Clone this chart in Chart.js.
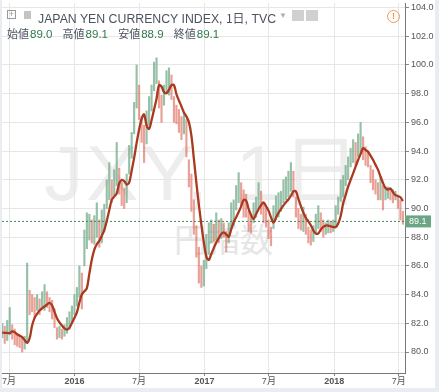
<!DOCTYPE html>
<html>
<head>
<meta charset="utf-8">
<script src="https://cdn.jsdelivr.net/npm/chart.js@4.4.1/dist/chart.umd.min.js"></script>
<style>
  html, body { margin: 0; padding: 0; background: #e9ecf0; width: 439px; height: 392px; overflow: hidden; }
  #wrap { position: absolute; left: 2px; top: 0; width: 433px; height: 388px; background: #fff; overflow: hidden; }
  #chart { position: absolute; left: 0; top: 0; }
  .mark { position: absolute; left: 0; width: 403px; text-align: center; white-space: nowrap; }
  #mark1 { top: 110px; font: 78px "Liberation Sans", Arial, "Noto Sans CJK JP", sans-serif; letter-spacing: 3px; color: #ededed; }
  #mark2 { top: 214px; left: 20px; font: 33px "Noto Sans CJK JP", sans-serif; color: #e6e6e6; }
  .hdr { position: absolute; white-space: nowrap; color: #4c525e; }
  #title { left: 36px; top: 9px; font: 12.3px "Liberation Sans", Arial, sans-serif; }
  #title .tf { font-family: "Noto Sans CJK JP", sans-serif; font-size: 12px; }
  #ohlc { left: 5px; top: 25px; font: 11.5px "Liberation Sans", Arial, "Noto Sans CJK JP", sans-serif; }
  #ohlc .lb { font-family: "Noto Sans CJK JP", sans-serif; font-size: 11px; }
  #ohlc .v { color: #2f7a4c; margin-right: 7px; margin-left: 1px; }
  .ico { position: absolute; box-sizing: border-box; }
  #plus { left: 5px; top: 10px; width: 9px; height: 9px; border: 1px solid #999; font: 9px/7px Arial; color: #999; text-align: center; }
  #flag { left: 22px; top: 11px; width: 7px; height: 8px; background: #c4c4c4; }
  #caret { left: 277px; top: 11px; font: 8px Arial; color: #b0b0b0; }
  #g1 { left: 290px; top: 10px; width: 12px; height: 11px; background: #d0d0d0; }
  #g2 { left: 304px; top: 10px; width: 12px; height: 11px; background: #d0d0d0; }
  #warn { left: 385px; top: 10px; width: 13px; height: 13px; border: 1.5px solid #f19a55; border-radius: 50%; font: bold 9px/10px Arial; color: #f19a55; text-align: center; }
</style>
</head>
<body>
<div id="wrap">
  <div class="mark" id="mark1">JXY, 1日</div>
  <div class="mark" id="mark2">円指数</div>
  <canvas id="chart" width="433" height="388"></canvas>
  <div class="ico" id="plus">+</div>
  <div class="ico" id="flag"></div>
  <div class="hdr" id="title">JAPAN YEN CURRENCY INDEX, <span class="tf">1日</span>, TVC</div>
  <div class="ico" id="caret">▼</div>
  <div class="ico" id="g1"></div>
  <div class="ico" id="g2"></div>
  <div class="ico" id="warn">!</div>
  <div class="hdr" id="ohlc"><span class="lb">始値</span><span class="v">89.0</span> <span class="lb">高値</span><span class="v">89.1</span> <span class="lb">安値</span><span class="v">88.9</span> <span class="lb">終値</span><span class="v">89.1</span></div>
</div>
<script>
// weekly samples, first week starting 2015-06-12
const weekStart = "2015-06-12";
const refDate = "2015-07-01";

const maValues = [
  81.35, 81.34, 81.33, 81.32, 81.43, 81.38, 81.23, 81.14, 81.04, 80.83,
  80.64, 80.96, 81.84, 82.38, 82.66, 82.89, 83.04, 83.18, 83.31, 83.43,
  83.26, 82.80, 82.35, 82.06, 81.84, 81.64, 81.56, 81.68, 82.03, 82.38,
  82.76, 83.45, 84.02, 84.23, 84.45, 85.46, 86.44, 87.14, 87.51, 87.74,
  88.09, 88.49, 89.14, 89.88, 90.60, 90.83, 91.06, 91.76, 91.99, 91.91,
  91.67, 91.81, 92.63, 93.53, 94.57, 95.51, 96.24, 96.56, 95.80, 95.55,
  96.15, 96.89, 97.65, 98.60, 98.50, 98.11, 98.04, 98.27, 98.60, 98.60,
  97.96, 97.53, 97.12, 96.69, 96.42, 96.02, 95.10, 93.47, 91.80, 90.27,
  88.90, 87.65, 86.65, 86.42, 86.83, 87.24, 87.63, 87.93, 88.22, 88.34,
  88.20, 88.02, 88.55, 89.04, 89.39, 89.75, 90.15, 90.60, 90.55, 89.97,
  89.54, 89.26, 89.61, 89.95, 90.23, 90.42, 90.15, 89.85, 89.38, 89.01,
  89.36, 89.70, 89.96, 90.22, 90.44, 90.63, 90.89, 91.20, 91.20, 90.67,
  90.17, 89.71, 89.34, 89.11, 88.83, 88.48, 88.25, 88.27, 88.53, 88.72,
  88.81, 88.81, 88.75, 88.72, 88.70, 88.95, 89.48, 90.36, 90.94, 91.52,
  91.99, 92.45, 92.92, 93.38, 93.79, 94.20, 94.08, 93.96, 93.68, 93.39,
  93.04, 92.69, 92.23, 91.78, 91.43, 91.32, 91.39, 91.15, 90.93, 90.87,
  90.78, 90.52
];

const weekLows = [
  81.0, 80.6, 80.8, 81.2, 80.9, 80.5, 80.4, 80.3, 80.0, 80.2,
  80.7, 82.6, 82.8, 82.4, 82.9, 82.6, 83.0, 82.9, 83.1, 82.8,
  82.3, 81.7, 80.9, 81.0, 80.9, 81.1, 81.3, 81.6, 82.1, 82.6,
  83.2, 83.8, 83.0, 86.0, 87.2, 87.8, 87.6, 87.5, 88.0, 87.3,
  87.6, 88.4, 90.0, 90.6, 90.4, 90.9, 91.6, 91.0, 90.2, 90.0,
  90.4, 92.4, 93.5, 95.2, 97.0, 96.2, 94.6, 93.2, 94.5, 95.8,
  96.8, 98.2, 98.7, 97.0, 96.0, 97.2, 98.0, 97.9, 97.6, 96.0,
  95.9, 95.3, 94.8, 95.2, 93.6, 91.5, 89.8, 88.2, 86.6, 84.8,
  84.5, 84.6, 85.8, 86.8, 87.6, 87.7, 87.8, 87.6, 87.9, 88.0,
  87.0, 87.6, 88.6, 88.8, 89.9, 90.4, 90.2, 89.4, 89.4, 88.4,
  88.3, 89.0, 89.4, 90.0, 89.6, 89.0, 88.7, 87.9, 87.4, 88.6,
  89.2, 89.4, 89.8, 90.4, 90.6, 90.8, 91.2, 90.8, 89.4, 88.6,
  88.5, 88.4, 88.2, 87.6, 87.45, 87.7, 88.3, 88.6, 88.4, 88.0,
  88.2, 88.3, 88.3, 88.4, 88.8, 89.6, 90.5, 90.8, 91.6, 92.0,
  92.9, 93.2, 93.0, 93.6, 93.8, 93.4, 93.0, 92.9, 91.8, 91.3,
  91.0, 90.6, 90.6, 89.9, 90.6, 90.7, 90.6, 90.4, 90.6, 90.0,
  89.2, 88.9
];

const weekHighs = [
  82.0, 81.8, 82.2, 83.1, 81.9, 81.6, 81.3, 81.2, 81.0, 81.1,
  86.2, 84.3, 84.0, 83.8, 84.0, 83.7, 84.2, 84.7, 84.2, 83.8,
  83.6, 83.0, 81.7, 81.8, 81.6, 81.9, 82.4, 82.8, 83.2, 84.0,
  84.5, 86.0, 85.5, 88.5, 89.7, 89.6, 89.2, 89.5, 90.4, 89.2,
  89.9, 90.3, 92.0, 93.2, 92.0, 92.7, 94.6, 92.8, 91.8, 91.4,
  92.4, 94.4, 95.3, 97.4, 100.0, 98.6, 96.4, 95.8, 96.8, 97.8,
  98.6, 100.2, 100.5, 98.9, 97.9, 98.6, 99.6, 99.8, 99.3, 97.8,
  97.2, 96.9, 96.4, 96.7, 96.2, 93.4, 92.4, 90.6, 88.8, 87.3,
  86.0, 86.4, 88.2, 89.0, 89.2, 88.9, 89.7, 89.2, 89.3, 89.0,
  88.4, 89.0, 90.4, 90.6, 91.6, 92.5, 91.8, 91.3, 91.0, 89.8,
  89.5, 90.4, 90.8, 91.8, 91.2, 90.4, 90.0, 89.2, 88.7, 90.2,
  90.9, 91.1, 91.2, 92.0, 92.2, 92.6, 93.2, 92.6, 90.8, 90.0,
  89.6, 90.1, 89.6, 88.7, 88.5, 88.8, 89.6, 90.2, 89.7, 89.2,
  89.0, 89.2, 89.1, 89.2, 90.2, 90.8, 92.0, 92.3, 93.0, 93.6,
  94.2, 94.8, 94.6, 95.2, 96.0, 95.0, 94.3, 94.0, 93.0, 92.7,
  92.0, 91.8, 92.2, 91.6, 91.5, 91.5, 91.4, 91.3, 91.2, 90.8,
  90.6, 89.8
];

const lastPrice = 89.1;
const tickDates = ["2015-07-01", "2016-01-01", "2016-07-01", "2017-01-01", "2017-07-01", "2018-01-01", "2018-07-01"];
const tickLabels = ["7月", "2016", "7月", "2017", "7月", "2018", "7月"];
const yTicks = [80, 82, 84, 86, 88, 90, 92, 94, 96, 98, 100, 102, 104];

const DAY = 86400000;
const dayOf = s => Math.round((Date.parse(s) - Date.parse(refDate)) / DAY);
const firstDay = dayOf(weekStart);
const tickDays = tickDates.map(dayOf);
const xMin = -19.7, xMax = 1113.9;

const maPoints = maValues.map((v, i) => ({ x: firstDay + 7 * i, y: v }));
const barPoints = weekLows.map((lo, i) => ({ x: firstDay + 7 * i, y: [lo, weekHighs[i]] }));
const barColors = weekLows.map((lo, i) => {
  const mid = (lo + weekHighs[i]) / 2;
  const prev = i > 0 ? (weekLows[i - 1] + weekHighs[i - 1]) / 2 : mid;
  return mid >= prev ? "rgba(107,165,131,0.7)" : "rgba(215,84,66,0.55)";
});

const priceTag = {
  id: "priceTag",
  afterDraw(chart) {
    const c = chart.ctx;
    const y = chart.scales.y.getPixelForValue(lastPrice);
    const x = chart.chartArea.right;
    c.save();
    c.fillStyle = "#6ba583";
    c.fillRect(x, y - 6, 26, 12);
    c.fillStyle = "#fff";
    c.font = "9px 'Liberation Sans', Arial, sans-serif";
    c.textBaseline = "middle";
    c.fillText(lastPrice.toFixed(1), x + 4, y + 0.5);
    c.restore();
  }
};

const ctx = document.getElementById("chart").getContext("2d");
new Chart(ctx, {
  type: "bar",
  data: {
    datasets: [
      {
        type: "line",
        data: maPoints,
        borderColor: "#a9391f",
        borderWidth: 2.3,
        pointRadius: 0,
        tension: 0.35,
        order: 0
      },
      {
        type: "line",
        data: [{ x: xMin, y: lastPrice }, { x: xMax, y: lastPrice }],
        borderColor: "#3f8a5c",
        borderWidth: 1,
        borderDash: [2, 2],
        pointRadius: 0,
        order: 1
      },
      {
        type: "bar",
        data: barPoints,
        backgroundColor: barColors,
        barThickness: 1.5,
        order: 2
      }
    ]
  },
  options: {
    responsive: false,
    animation: false,
    layout: { padding: { top: 3 } },
    plugins: { legend: { display: false }, tooltip: { enabled: false } },
    scales: {
      x: {
        type: "linear",
        offset: false,
        min: xMin,
        max: xMax,
        afterBuildTicks: s => { s.ticks = tickDays.map(v => ({ value: v })); },
        afterFit: s => { s.height = 15; s.paddingLeft = 0; s.paddingRight = 0; },
        ticks: {
          autoSkip: false,
          maxRotation: 0,
          padding: 0,
          color: "#555",
          font: c => ({ size: 9, family: "'Liberation Sans', Arial, 'Noto Sans CJK JP', sans-serif", weight: (tickLabels[c.index] || "").length === 4 ? "bold" : "normal" }),
          callback: (v, i) => tickLabels[i]
        },
        grid: { offset: false, color: "#e6e6e6", tickColor: "#888", tickLength: 3 },
        border: { color: "#777" }
      },
      y: {
        position: "right",
        min: 78.537,
        max: 104.32,
        afterBuildTicks: s => { s.ticks = yTicks.map(v => ({ value: v })); },
        afterFit: s => { s.width = 30; s.paddingTop = 0; s.paddingBottom = 0; },
        ticks: {
          padding: 2,
          color: "#555",
          font: { size: 9, family: "'Liberation Sans', Arial, sans-serif" },
          callback: v => v.toFixed(1)
        },
        grid: { color: "#e6e6e6", tickColor: "#888", tickLength: 4 },
        border: { color: "#777" }
      }
    }
  },
  plugins: [priceTag]
});
</script>
</body>
</html>
